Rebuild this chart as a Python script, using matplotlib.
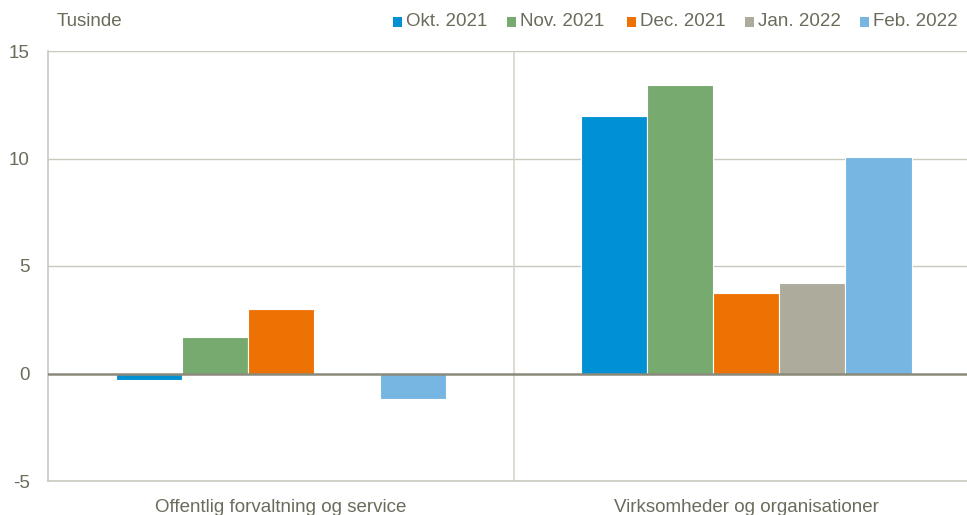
import matplotlib
matplotlib.use("Agg")
import matplotlib.pyplot as plt
from matplotlib.patches import Rectangle
import numpy as np

plt.rcParams['font.family'] = ['Liberation Sans', 'DejaVu Sans']
fs = 13.5

categories = ["Offentlig forvaltning og service", "Virksomheder og organisationer"]
series_names = ["Okt. 2021", "Nov. 2021", "Dec. 2021", "Jan. 2022", "Feb. 2022"]
okt_2021 = [-0.3, 12.0]
nov_2021 = [1.7, 13.4]
dec_2021 = [3.0, 3.75]
jan_2022 = [0.0, 4.2]
feb_2022 = [-1.2, 10.05]
yticks = [-5, 0, 5, 10, 15]

series = [okt_2021, nov_2021, dec_2021, jan_2022, feb_2022]
colors = ["#0091D4", "#77AA6F", "#EE7203", "#ADAB9C", "#77B5E2"]
txt = "#6B6B5C"
grid = "#C9C8BC"

W, H = 967, 515
fig = plt.figure(figsize=(W/100, H/100), dpi=100)
ax = fig.add_axes([48/W, 1-481/H, 1-48/W, (481-51)/H])

x = np.arange(len(categories))
w = 0.142
for i, (vals, c) in enumerate(zip(series, colors)):
    ax.bar(x + (i - 2) * w, vals, width=w, color=c, edgecolor="white",
           linewidth=0.8, zorder=3)

ax.set_xlim(-0.5, 1.474)
ax.set_ylim(-5, 15)
ax.set_yticks(yticks)
ax.set_yticklabels([str(v) for v in yticks])
for v in [5, 10, 15]:
    ax.axhline(v, color=grid, lw=1.0, zorder=1)
ax.axhline(0, color="#8A897A", lw=1.8, zorder=4)
ax.axvline(0.5, color="#D5D4CC", lw=1.2, zorder=1)

ax.set_xticks(x)
ax.set_xticklabels(categories)
ax.tick_params(axis="both", length=0, labelsize=fs, colors=txt)
ax.tick_params(axis="y", pad=13)
ax.tick_params(axis="x", pad=13)
for s in ["top", "right"]:
    ax.spines[s].set_visible(False)
ax.spines["left"].set_color(grid)
ax.spines["bottom"].set_color(grid)
ax.spines["left"].set_linewidth(1.2)
ax.spines["bottom"].set_linewidth(1.2)

fig.text(57/W, 1-22/H, "Tusinde", color=txt, fontsize=fs, va="center", ha="left")

# legend entries placed manually
leg_x = [393, 507, 627, 745, 860]
sq = 9
yc = 22
for lx, name, c in zip(leg_x, series_names, colors):
    fig.patches.append(Rectangle((lx/W, 1-(yc+sq/2)/H), sq/W, sq/H, facecolor=c,
                                 edgecolor="none", transform=fig.transFigure, figure=fig))
    fig.text((lx+sq+4)/W, 1-yc/H, name, color=txt, fontsize=fs, va="center", ha="left")

fig.savefig("out.png", dpi=100)
